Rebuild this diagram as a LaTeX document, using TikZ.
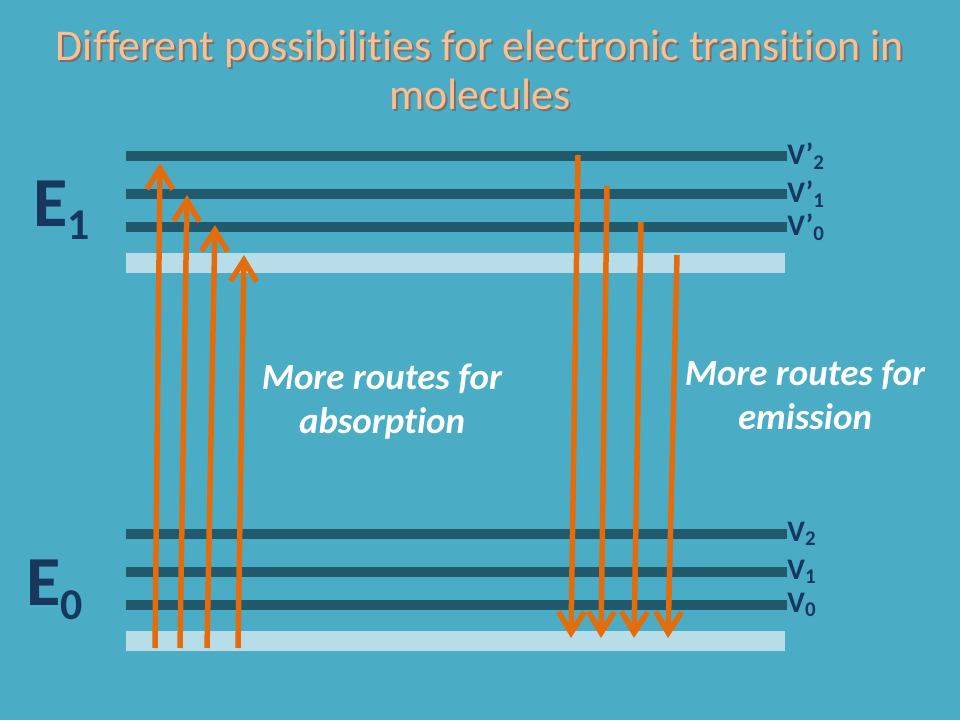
\documentclass[tikz,border=0pt]{standalone}
\usepackage{fontspec}
\setmainfont{Carlito}[Ligatures=NoCommon]
\usetikzlibrary{arrows.meta}

\definecolor{slidebg}{HTML}{4BACC6}
\definecolor{leveldark}{HTML}{215A6D}
\definecolor{levellight}{HTML}{B7DEE8}
\definecolor{transorange}{HTML}{E46C0A}
\definecolor{labelnavy}{HTML}{17375E}
\definecolor{titlepeach}{HTML}{FAC090}

\tikzset{
  level/.style={draw=leveldark, line width=0.2cm},
  base/.style={draw=levellight, line width=0.4cm},
  trans/.style={draw=transorange, line width=0.11cm,
    -{Straight Barb[length=0.42cm, width=0.52cm]}},
  vlabel/.style={anchor=west, inner sep=0pt, text=labelnavy,
    font=\fontsize{17}{19}\selectfont\bfseries},
  elabel/.style={text=labelnavy, font=\fontsize{40}{44}\selectfont\bfseries},
  routes/.style={text=white, align=center,
    font=\fontsize{21}{25}\selectfont\bfseries\itshape},
}

\begin{document}
\begin{tikzpicture}

   \fill [slidebg] (0,0) rectangle (19.2,14.4);
   \useasboundingbox (0,0) rectangle (19.2,14.4);

   % title
   \node (title-shadow) at (9.64,12.96) [align=center, text=black!55,
      font=\fontsize{25}{28}\selectfont] {Different possibilities for electronic transition in\\molecules};
   \node (title) at (9.6,13.0) [align=center, text=titlepeach,
      font=\fontsize{25}{28}\selectfont] {Different possibilities for electronic transition in\\molecules};

   % excited state E1
   \node (E1) at (1.24,10.2) [elabel] {E\textsubscript{\fontsize{25}{28}\selectfont 1}};
   \node (V2p) at (15.74,11.28) [vlabel] {V’\textsubscript{2}};
   \node (V1p) at (15.74,10.52) [vlabel] {V’\textsubscript{1}};
   \node (V0p) at (15.74,9.86) [vlabel] {V’\textsubscript{0}};
   \coordinate (V2p-start) at (2.52,11.28);
   \coordinate (V1p-start) at (2.52,10.52);
   \coordinate (V0p-start) at (2.52,9.86);
   \coordinate (E1-start) at (2.52,9.14);
   \coordinate (E1-end) at (15.70,9.14);

   % ground state E0
   \node (E0) at (1.10,2.6) [elabel] {E\textsubscript{\fontsize{25}{28}\selectfont 0}};
   \node (V2) at (15.74,3.72) [vlabel] {V\textsubscript{2}};
   \node (V1) at (15.74,2.96) [vlabel] {V\textsubscript{1}};
   \node (V0) at (15.74,2.30) [vlabel] {V\textsubscript{0}};
   \coordinate (V2-start) at (2.52,3.72);
   \coordinate (V1-start) at (2.52,2.96);
   \coordinate (V0-start) at (2.52,2.30);
   \coordinate (E0-start) at (2.52,1.58);
   \coordinate (E0-end) at (15.70,1.58);

   \draw [level] (V2p-start) -- (V2p.west);
   \draw [level] (V1p-start) -- (V1p.west);
   \draw [level] (V0p-start) -- (V0p.west);
   \draw [base] (E1-start) -- (E1-end);
   \draw [level] (V2-start) -- (V2.west);
   \draw [level] (V1-start) -- (V1.west);
   \draw [level] (V0-start) -- (V0.west);
   \draw [base] (E0-start) -- (E0-end);

   % absorption
   \coordinate (abs1-from) at (3.10,1.44);
   \coordinate (abs1-to) at (3.20,11.14);
   \coordinate (abs2-from) at (3.60,1.44);
   \coordinate (abs2-to) at (3.74,10.50);
   \coordinate (abs3-from) at (4.14,1.44);
   \coordinate (abs3-to) at (4.30,9.90);
   \coordinate (abs4-from) at (4.76,1.44);
   \coordinate (abs4-to) at (4.88,9.30);

   \draw [trans] (abs1-from) -- (abs1-to);
   \draw [trans] (abs2-from) -- (abs2-to);
   \draw [trans] (abs3-from) -- (abs3-to);
   \draw [trans] (abs4-from) -- (abs4-to);

   % emission
   \coordinate (emi1-from) at (11.56,11.30);
   \coordinate (emi1-to) at (11.42,1.64);
   \coordinate (emi2-from) at (12.14,10.68);
   \coordinate (emi2-to) at (12.02,1.64);
   \coordinate (emi3-from) at (12.82,9.96);
   \coordinate (emi3-to) at (12.68,1.64);
   \coordinate (emi4-from) at (13.54,9.30);
   \coordinate (emi4-to) at (13.36,1.64);

   \draw [trans] (emi1-from) -- (emi1-to);
   \draw [trans] (emi2-from) -- (emi2-to);
   \draw [trans] (emi3-from) -- (emi3-to);
   \draw [trans] (emi4-from) -- (emi4-to);

   \node (absorption) at (7.64,6.36) [routes] {More routes for\\absorption};
   \node (emission) at (16.10,6.50) [routes] {More routes for\\emission};

\end{tikzpicture}
\end{document}
